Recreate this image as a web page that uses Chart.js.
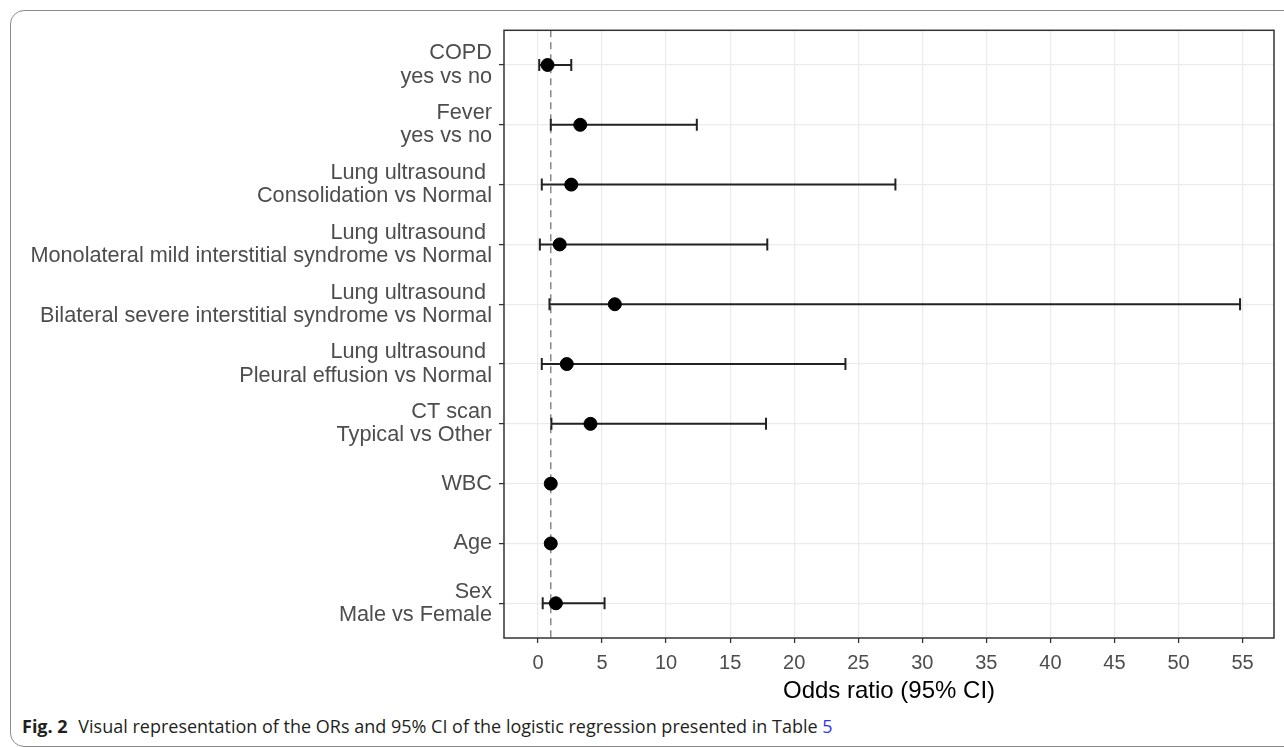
<!DOCTYPE html>
<html>
<head>
<meta charset="utf-8">
<script src="https://cdn.jsdelivr.net/npm/chart.js@4.4.1/dist/chart.umd.min.js"></script>
<style>
  body { margin: 0; background: #fff; width: 1284px; height: 747px; overflow: hidden; position: relative; }
  #frame { position: absolute; left: 10px; top: 10px; width: 1300px; height: 737px; border: 1px solid #8c8c8c; border-radius: 14px; box-sizing: border-box; }
  #wrap { position: absolute; left: 0; top: 0; width: 1284px; height: 706px; }
  #caption { position: absolute; left: 22px; top: 714px; font-family: "Open Sans"; font-size: 18px; line-height: normal; color: #231f20; white-space: nowrap; }
  #caption b { font-weight: 700; margin-right: 6px; }
  #caption span { color: #3030ff; }
</style>
</head>
<body>
<div id="frame"></div>
<div id="wrap"><canvas id="myChart"></canvas></div>
<div id="caption"><b>Fig. 2</b> Visual representation of the ORs and 95% CI of the logistic regression presented in Table <span>5</span></div>
<script>
// Data
const categories = [
  'COPD\nyes vs no',
  'Fever\nyes vs no',
  'Lung ultrasound \nConsolidation vs Normal',
  'Lung ultrasound \nMonolateral mild interstitial syndrome vs Normal',
  'Lung ultrasound \nBilateral severe interstitial syndrome vs Normal',
  'Lung ultrasound \nPleural effusion vs Normal',
  'CT scan\nTypical vs Other',
  'WBC',
  'Age',
  'Sex\nMale vs Female'
]
const oddsRatio = [0.75, 3.3, 2.6, 1.7, 6.0, 2.25, 4.1, 1.0, 1.0, 1.4]
const ciLower = [0.1, 1.0, 0.3, 0.15, 0.9, 0.3, 1.05, 0.97, 0.98, 0.37]
const ciUpper = [2.6, 12.4, 27.9, 17.9, 54.8, 24.0, 17.8, 1.03, 1.02, 5.2]
const xTicks = [0, 5, 10, 15, 20, 25, 30, 35, 40, 45, 50, 55]
const refLine = 1

const yMin = 0.42
const yMax = 10.58

Chart.defaults.font.family = 'Liberation Sans'
Chart.defaults.animation = false

// points
var datasets = [{
  type: 'scatter',
  data: oddsRatio.map(function (v, i) { return { x: v, y: i + 1 } }),
  backgroundColor: '#000',
  borderColor: '#000',
  pointRadius: 6.5,
  pointHoverRadius: 6.5
}]

// confidence intervals, one line per row with end caps
for (var i = 0; i < categories.length; i++) {
  datasets.push({
    type: 'line',
    data: [{ x: ciLower[i], y: i + 1 }, { x: ciUpper[i], y: i + 1 }],
    borderColor: '#222',
    borderWidth: 2,
    pointStyle: 'line',
    pointRotation: 90,
    pointRadius: 6,
    pointBorderWidth: 2,
    pointBorderColor: '#222',
    pointHoverRadius: 6
  })
}

// dashed line at OR = 1
datasets.push({
  type: 'line',
  data: [{ x: refLine, y: yMin }, { x: refLine, y: yMax }],
  borderColor: '#8a8a8a',
  borderWidth: 1.5,
  borderDash: [7, 5],
  pointRadius: 0
})

const panelBorder = {
  id: 'panelBorder',
  afterDraw: function (chart) {
    const a = chart.chartArea
    const ctx = chart.ctx
    ctx.save()
    ctx.strokeStyle = '#333'
    ctx.lineWidth = 1.5
    ctx.strokeRect(a.left, a.top, a.right - a.left, a.bottom - a.top)
    ctx.restore()
  }
}

const config = {
  type: 'scatter',
  data: { datasets: datasets },
  options: {
    responsive: true,
    maintainAspectRatio: false,
    layout: { padding: { top: 27, right: 10, left: 0, bottom: 0 } },
    plugins: { legend: { display: false }, tooltip: { enabled: false } },
    scales: {
      x: {
        type: 'linear',
        min: -2.65,
        max: 57.45,
        afterBuildTicks: function (scale) {
          scale.ticks = xTicks.map(function (v) { return { value: v } })
        },
        afterFit: function (scale) { scale.height = 68 },
        grid: { color: '#ebebeb', lineWidth: 1.2, tickColor: '#333', tickLength: 5, tickWidth: 1.3 },
        border: { display: false },
        ticks: { color: '#4d4d4d', font: { size: 20 }, padding: 8, maxRotation: 0 },
        title: { display: true, text: 'Odds ratio (95% CI)', color: '#000', font: { size: 24 }, padding: 0 }
      },
      y: {
        type: 'linear',
        reverse: true,
        min: yMin,
        max: yMax,
        afterBuildTicks: function (scale) {
          scale.ticks = categories.map(function (c, i) { return { value: i + 1 } })
        },
        afterFit: function (scale) { scale.width = 504 },
        grid: { color: '#ebebeb', lineWidth: 1.2, tickColor: '#333', tickLength: 5, tickWidth: 1.3 },
        border: { display: false },
        ticks: {
          color: '#4d4d4d',
          font: { size: 21.7, lineHeight: 23.3 / 21.7 },
          padding: 7,
          callback: function (value) { return categories[value - 1].split('\n') }
        }
      }
    }
  },
  plugins: [panelBorder]
}

const myChart = new Chart(document.getElementById('myChart'), config)
</script>
</body>
</html>
